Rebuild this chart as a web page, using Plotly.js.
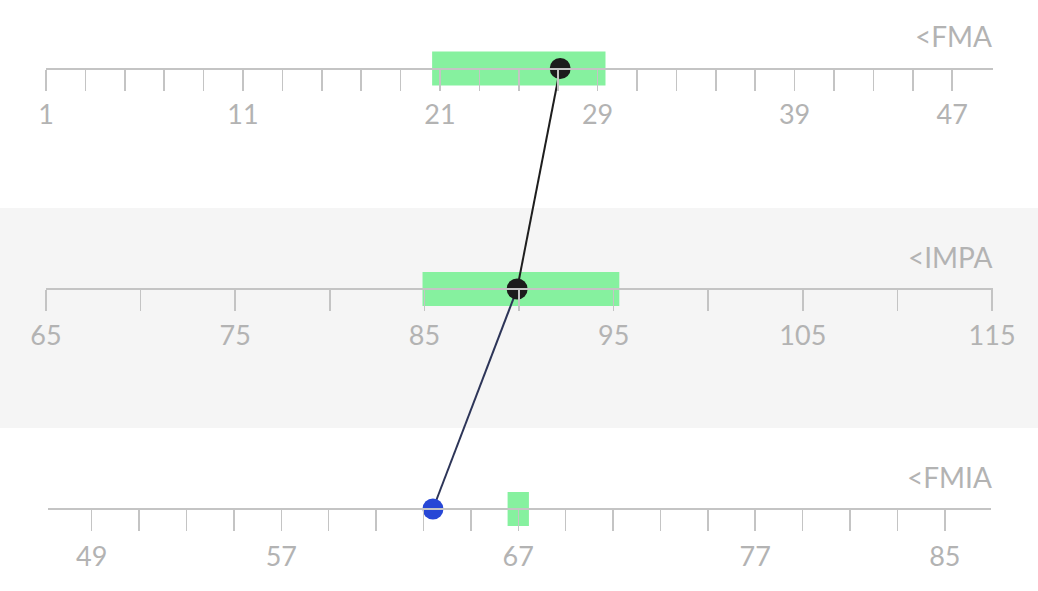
<!DOCTYPE html>
<html>
<head>
<meta charset="utf-8">
<script src="https://cdn.plot.ly/plotly-3.0.1.min.js"></script>
<style>html,body{margin:0;padding:0;background:#fff;}#chart{width:1038px;height:591px;}</style>
</head>
<body>
<div id="chart"></div>
<script>
// ---- data ----
const measures = ["FMA", "IMPA", "FMIA"];
const values = [27.1, 89.9, 63.4];
const normLow = [20.6, 84.9, 66.55];
const normHigh = [29.4, 95.3, 67.45];
const dotColors = ["#1c1c1c", "#1c1c1c", "#2747d6"];
const segColors = ["#1e1e1e", "#2d3558"];

const fmaTicks = [1,3,5,7,9,11,13,15,17,19,21,23,25,27,29,31,33,35,37,39,41,43,45,47];
const fmaLabels = [1, 11, 21, 29, 39, 47];
const impaTicks = [65,70,75,80,85,90,95,100,105,110,115];
const impaLabels = [65, 75, 85, 95, 105, 115];
const fmiaTicks = [49,51,53,55,57,59,61,63,65,67,69,71,73,75,77,79,81,83,85];
const fmiaLabels = [49, 57, 67, 77, 85];

// ---- layout geometry ----
const W = 1038, H = 591;
const ranges = [[1, 49.07], [65, 115.05], [47.155, 86.95]];
const xDomains = [[46/W, 993/W], [46/W, 993/W], [48/W, 991/W]];
const lineY = [1 - 68.5/H, 1 - 289/H, 1 - 509/H];
const titleY = [1 - 36/H, 1 - 257/H, 1 - 477/H];
const standoffs = [1, 2, 3];
const tickSets = [fmaTicks, impaTicks, fmiaTicks];
const labelSets = [fmaLabels, impaLabels, fmiaLabels];

const font = "Lato, 'Open Sans', sans-serif";
const grey = "#b3b3b3";

function toPaper(i, v) {
  const r = ranges[i], d = xDomains[i];
  return d[0] + (v - r[0]) / (r[1] - r[0]) * (d[1] - d[0]);
}

const layout = {
  width: W, height: H,
  margin: {l: 0, r: 0, t: 0, b: 0},
  paper_bgcolor: "#ffffff",
  plot_bgcolor: "rgba(0,0,0,0)",
  showlegend: false,
  font: {family: font, color: grey},
  xaxis: {domain: [0, 1], range: [0, 1], visible: false, fixedrange: true},
  yaxis: {domain: [0, 1], range: [0, 1], visible: false, fixedrange: true},
  shapes: [
    {type: "rect", xref: "paper", yref: "paper", x0: 0, x1: 1, y0: 1 - 428/H, y1: 1 - 208/H,
     fillcolor: "#f5f5f5", line: {width: 0}, layer: "below"}
  ],
  annotations: []
};

const traces = [];
// connecting line (overlay subplot spanning the paper)
for (let i = 0; i < 2; i++) {
  traces.push({
    type: "scatter", mode: "lines", xaxis: "x", yaxis: "y",
    x: [toPaper(i, values[i]), toPaper(i + 1, values[i + 1])],
    y: [lineY[i], lineY[i + 1]],
    line: {color: segColors[i], width: 2}, hoverinfo: "skip"
  });
}

measures.forEach((m, i) => {
  const n = i + 2;
  const xa = "xaxis" + n, ya = "yaxis" + n;
  layout[xa] = {
    domain: xDomains[i], range: ranges[i], anchor: "free", position: lineY[i],
    showgrid: false, zeroline: false, fixedrange: true,
    showline: true, linecolor: "#c4c4c4", linewidth: 2,
    ticks: "outside", ticklen: 21, tickwidth: 1.5, tickcolor: "#c4c4c4",
    tickmode: "array", tickvals: tickSets[i],
    ticktext: tickSets[i].map(t => labelSets[i].includes(t) ? String(t) : ""),
    tickfont: {family: font, size: 27, color: grey},
    ticklabelstandoff: standoffs[i]
  };
  layout[ya] = {domain: [lineY[i] - 0.05, lineY[i] + 0.05], range: [-1, 1], visible: false, fixedrange: true};
  // normal range band
  layout.shapes.push({
    type: "rect", xref: "x" + n, yref: "paper", ysizemode: "pixel", yanchor: lineY[i],
    x0: normLow[i], x1: normHigh[i], y0: -17, y1: 17,
    fillcolor: "#86f19f", line: {width: 0}, layer: "below"
  });
  // measure title
  layout.annotations.push({
    xref: "paper", yref: "paper", x: 994/W, y: titleY[i], xanchor: "right", yanchor: "middle",
    text: "&lt;" + m, showarrow: false, font: {family: font, size: 28, color: grey}
  });
  // value dot
  traces.push({
    type: "scatter", mode: "markers", xaxis: "x" + n, yaxis: "y" + n,
    x: [values[i]], y: [0], cliponaxis: false,
    marker: {size: 21, color: dotColors[i]}, hoverinfo: "x"
  });
});

Plotly.newPlot("chart", traces, layout, {displayModeBar: false, staticPlot: true});
</script>
</body>
</html>
